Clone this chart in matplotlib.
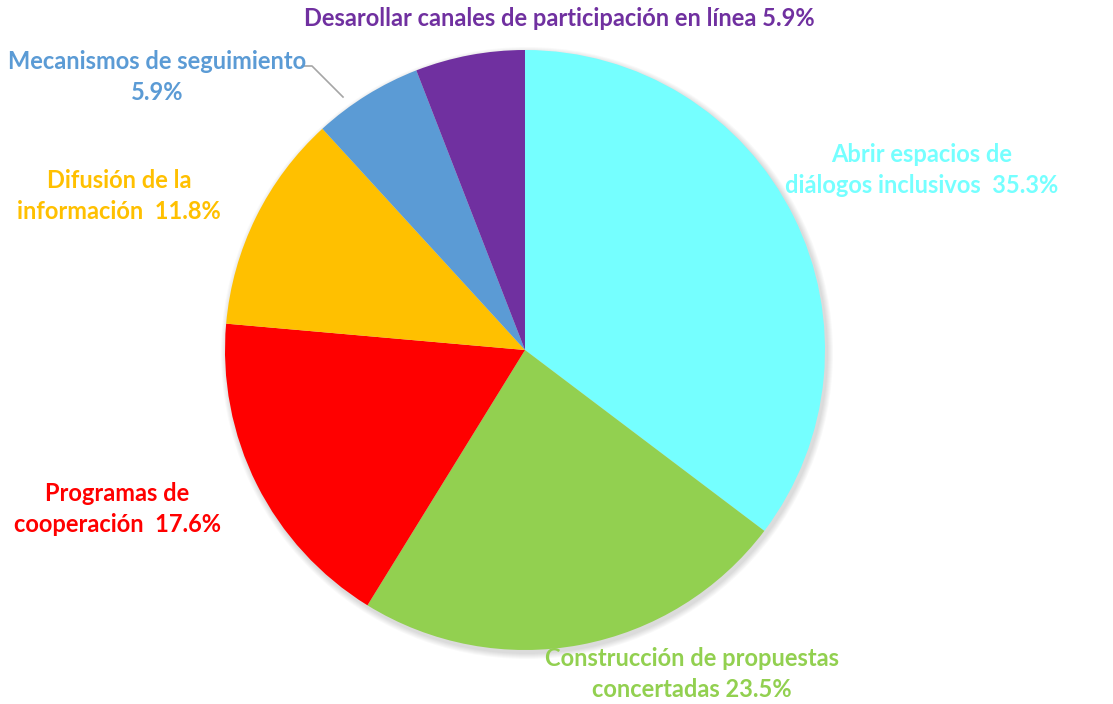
import matplotlib.pyplot as plt
from matplotlib.patches import Circle

# data
labels = ["Abrir espacios de\ndiálogos inclusivos  35.3%",
          "Construcción de propuestas\nconcertadas 23.5%",
          "Programas de\ncooperación  17.6%",
          "Difusión de la\ninformación  11.8%",
          "Mecanismos de seguimiento\n5.9%",
          "Desarollar canales de participación en línea 5.9%"]
values = [35.3, 23.5, 17.6, 11.8, 5.9, 5.9]
colors = ["#75FFFF", "#92D050", "#FF0000", "#FFC000", "#5B9BD5", "#7030A0"]
text_colors = ["#75FFFF", "#92D050", "#FF0000", "#FFC000", "#5B9BD5", "#7030A0"]
# label centers in pixel coords (x, y from top)
label_pos = [(922, 170), (692, 674), (117, 509), (119, 196), (157, 77), (559, 18)]

W, H = 1113, 704
fig = plt.figure(figsize=(W / 100, H / 100), dpi=100)
ax = fig.add_axes([0, 0, 1, 1])

cx, cy, r = 525, H - 350, 300

# soft shadow
for i in range(6):
    ax.add_patch(Circle((cx + 2, cy - 3), r + 1 + i, color='black',
                        alpha=0.025, lw=0, zorder=0))

ax.pie(values, colors=colors, startangle=90, counterclock=False,
       center=(cx, cy), radius=r, frame=True,
       wedgeprops=dict(linewidth=0))
ax.set_xlim(0, W)
ax.set_ylim(0, H)
ax.set_aspect('equal')
ax.axis('off')

for lab, (x, y), c in zip(labels, label_pos, text_colors):
    ax.text(x, H - y, lab, color=c, fontsize=17, fontweight='bold',
            family='Lato', ha='center', va='center', linespacing=1.42)

# leader line for "Mecanismos de seguimiento"
ax.plot([302, 312, 343], [H - 66, H - 66, H - 97], color='#A6A6A6', lw=1.2)

fig.savefig('out.png', dpi=100)
